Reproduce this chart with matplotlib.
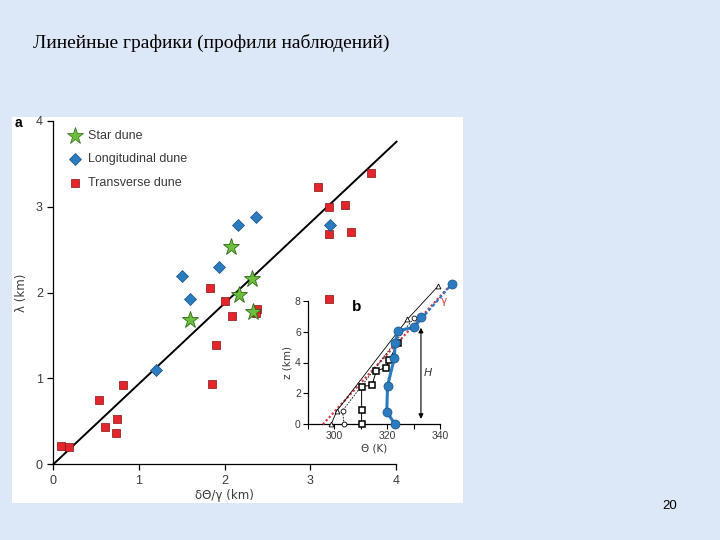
import matplotlib
matplotlib.use("Agg")
import matplotlib.pyplot as plt
from matplotlib.patches import Rectangle

# ---- data (main panel a) ----
star_x = [1.594, 2.075, 2.325, 2.165, 2.332]
star_y = [1.680, 2.533, 2.160, 1.971, 1.777]
long_x = [1.197, 1.594, 1.508, 1.936, 2.153, 2.371, 3.230]
long_y = [1.098, 1.920, 2.196, 2.301, 2.782, 2.875, 2.786]
trans_x = [0.089, 0.183, 0.536, 0.606, 0.739, 0.731, 0.816, 1.854, 1.901, 1.827,
           2.006, 2.084, 2.379, 2.371, 3.094, 3.226, 3.413, 3.226, 3.479, 3.712, 3.226]
trans_y = [0.217, 0.206, 0.745, 0.431, 0.528, 0.361, 0.923, 0.931, 1.393, 2.056,
           1.901, 1.730, 1.804, 1.757, 3.232, 2.999, 3.022, 2.681, 2.704, 3.395, 1.925]
fit_x = [0.0, 4.01]
fit_y = [0.0, 3.756]

# ---- data (inset b) ----
blue_K = [322.9, 319.8, 320.1, 322.7, 322.9, 324.1, 330.1, 332.8]
blue_z = [0.0, 0.82, 2.50, 4.31, 5.24, 6.06, 6.27, 6.92]
blue_top_K = [330.1, 344.3]
blue_top_z = [6.27, 9.07]
gamma_K = [295.7, 342.7]
gamma_z = [0.0, 8.8]
tri_K = [298.8, 301.0, 327.6, 339.3]
tri_z = [0.0, 0.88, 6.80, 8.97]
ocirc_K = [303.7, 303.1, 330.1]
ocirc_z = [0.0, 0.88, 6.90]
sq_K = [310.3, 310.3, 310.3, 314.2, 315.9, 319.6, 320.7, 324.1]
sq_z = [0.0, 0.90, 2.44, 2.54, 3.47, 3.66, 4.16, 5.28]
H_K = 332.7
H_z = [0.17, 6.43]

BG = "#dce8f7"
RED = "#e2262b"
BLUE = "#2b7bc0"
GREEN = "#6cbf3c"
TXT = "#3a3a3a"

fig = plt.figure(figsize=(7.2, 5.4), dpi=100)
fig.patch.set_facecolor(BG)
fig.patches.append(Rectangle((12/720, 1-503/540), (463-12)/720, (503-117)/540,
                             transform=fig.transFigure, facecolor="white",
                             edgecolor="none", zorder=-10))

fig.text(33/720, 1-43/540, "Линейные графики (профили наблюдений)",
         family="Liberation Serif", fontsize=14, va="center", ha="left")
fig.text(670/720, 1-506/540, "20", family="Liberation Sans", fontsize=9.5,
         va="center", ha="center")

sans = "Liberation Sans"

# ---- main axes ----
ax = fig.add_axes([53.3/720, 1-464.3/540, 342.4/720, 343.6/540])
ax.set_facecolor("none")
ax.set_xlim(0, 4)
ax.set_ylim(0, 4)
for s in ["top", "right"]:
    ax.spines[s].set_visible(False)
for s in ["left", "bottom"]:
    ax.spines[s].set_linewidth(0.9)
ax.set_xticks([0, 1, 2, 3, 4])
ax.set_yticks([0, 1, 2, 3, 4])
ax.tick_params(direction="out", length=4, width=0.9, labelsize=9,
               labelcolor=TXT)
for lab in ax.get_xticklabels() + ax.get_yticklabels():
    lab.set_family(sans)
ax.set_xlabel("δΘ/γ (km)", family="DejaVu Sans", fontsize=8.5, color=TXT,
              labelpad=2)
ax.set_ylabel("λ (km)", family="DejaVu Sans", fontsize=8.5, color=TXT,
              labelpad=6)

ax.plot(fit_x, fit_y, color="black", lw=1.4, zorder=2, clip_on=False)
ax.plot(trans_x, trans_y, "s", ms=5.5, color=RED, mec="#8a1010", mew=0.5,
        ls="none", zorder=3, clip_on=False, label="Transverse dune")
ax.plot(long_x, long_y, "D", ms=6.2, color=BLUE, mec="#1a4f80", mew=0.5,
        ls="none", zorder=3, clip_on=False, label="Longitudinal dune")
ax.plot(star_x, star_y, "*", ms=12.5, color=GREEN, mec="#2f6a1a", mew=0.6,
        ls="none", zorder=4, clip_on=False, label="Star dune")

# legend drawn manually
leg = [("*", 12.5, GREEN, "#2f6a1a", "Star dune"),
       ("D", 6.2, BLUE, "#1a4f80", "Longitudinal dune"),
       ("s", 5.5, RED, "#8a1010", "Transverse dune")]
leg_y = [136, 159, 183]
for (m, ms, c, ec, t), yy in zip(leg, leg_y):
    fig.lines.append(plt.Line2D([75/720], [1-yy/540], marker=m, ms=ms, color=c,
                                mec=ec, mew=0.5, ls="none",
                                transform=fig.transFigure))
    fig.text(88/720, 1-yy/540, t, family=sans, fontsize=9, color=TXT,
             va="center", ha="left")

fig.text(18/720, 1-123/540, "a", family=sans, fontsize=10, weight="bold",
         va="center", ha="center")

# ---- inset axes ----
ai = fig.add_axes([307.8/720, 1-424.3/540, 132.5/720, 123.6/540])
ai.set_facecolor("none")
ai.set_xlim(290, 340)
ai.set_ylim(0, 8)
for s in ["top", "right"]:
    ai.spines[s].set_visible(False)
for s in ["left", "bottom"]:
    ai.spines[s].set_linewidth(0.9)
ai.set_xticks([290, 300, 310, 320, 330, 340])
ai.set_xticklabels(["", "300", "", "320", "", "340"])
ai.set_yticks([0, 2, 4, 6, 8])
ai.tick_params(direction="out", length=3.5, width=0.8, labelsize=7.5,
               labelcolor=TXT, pad=1.5)
for lab in ai.get_xticklabels() + ai.get_yticklabels():
    lab.set_family(sans)
ai.set_xlabel("Θ (K)", family="DejaVu Sans", fontsize=7.5, color=TXT, labelpad=1.5)
ai.set_ylabel("z (km)", family="DejaVu Sans", fontsize=7.5, color=TXT, labelpad=2)

ai.plot(gamma_K, gamma_z, ls=(0, (1, 1)), color="#d23a4a", lw=1.6, zorder=3,
        clip_on=False)
ai.plot(tri_K, tri_z, "^-", ms=3.5, color="black", mfc="white", mew=0.6,
        lw=0.6, zorder=4, clip_on=False)
ai.plot(ocirc_K, ocirc_z, "o", ls=(0, (2, 1.5)), ms=3.5, color="black",
        mfc="white", mew=0.6, lw=0.6, zorder=4, clip_on=False)
ai.plot(sq_K, sq_z, "s-", ms=4.5, color="black", mfc="white", mew=1.1,
        lw=0.7, zorder=4, clip_on=False)
ai.plot(blue_top_K, blue_top_z, ls=(0, (1.5, 1)), color=BLUE, lw=1.6,
        zorder=5, clip_on=False)
ai.plot(blue_K, blue_z, "o-", ms=6.5, color=BLUE, mec="#1a4f80", mew=0.5,
        lw=2.2, zorder=6, clip_on=False)
ai.plot(blue_top_K[-1:], blue_top_z[-1:], "o", ms=6.5, color=BLUE,
        mec="#1a4f80", mew=0.5, zorder=6, clip_on=False)

ai.annotate("", xy=(H_K, H_z[0]), xytext=(H_K, H_z[1]),
            arrowprops=dict(arrowstyle="<|-|>", lw=0.8, color="black",
                            mutation_scale=7), annotation_clip=False)
ai.text(H_K + 2.7, 3.3, "H", family="DejaVu Sans", style="italic",
        fontsize=8, color=TXT, ha="center", va="center")
ai.text(341.4, 8.0, "γ", family="DejaVu Sans", fontsize=7.5, color="#d23a4a",
        ha="center", va="center")
fig.text(357/720, 1-307/540, "b", family=sans, fontsize=11, weight="bold",
         va="center", ha="center")

fig.savefig("out.png", dpi=100, facecolor=fig.get_facecolor())
